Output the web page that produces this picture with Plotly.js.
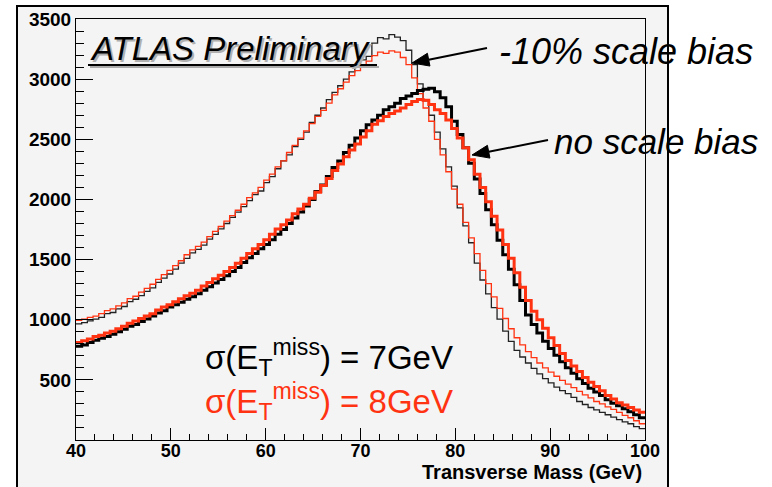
<!DOCTYPE html>
<html>
<head>
<meta charset="utf-8">
<script src="https://cdn.plot.ly/plotly-3.0.1.min.js"></script>
<style>html,body{margin:0;padding:0;background:#fff;}#chart{width:772px;height:487px;}</style>
</head>
<body>
<div id="chart"></div>
<script>
// Histogram binning (transverse mass, GeV)
const binLow = 40;
const binWidth = 0.6;

// -10% scale bias, sigma(ETmiss) = 7 GeV (thin black)
const biasSigma7 = [965,975,990,1005,1020,1050,1060,1090,1110,1150,
  1170,1200,1235,1265,1310,1345,1380,1420,1470,1510,
  1555,1585,1620,1670,1710,1755,1800,1850,1895,1940,
  1990,2040,2070,2140,2190,2255,2320,2370,2440,2500,
  2560,2640,2700,2760,2830,2890,2945,3000,3060,3110,
  3160,3190,3300,3345,3335,3370,3350,3320,3240,3120,
  2960,2820,2700,2560,2420,2270,2110,1930,1780,1640,
  1470,1330,1215,1100,1005,905,820,745,690,640,
  595,550,510,475,440,410,385,355,320,295,
  270,250,230,210,190,170,150,135,112,95];

// -10% scale bias, sigma(ETmiss) = 8 GeV (thin red)
const biasSigma8 = [995,1005,1020,1030,1050,1075,1090,1115,1140,1175,
  1195,1230,1260,1295,1335,1375,1410,1450,1490,1540,
  1580,1610,1645,1690,1735,1775,1820,1865,1910,1960,
  2015,2055,2100,2160,2210,2270,2320,2390,2450,2510,
  2570,2630,2690,2740,2800,2870,2920,2975,3030,3070,
  3120,3150,3195,3225,3215,3235,3225,3180,3120,3010,
  2880,2760,2650,2500,2370,2230,2085,1960,1810,1680,
  1550,1410,1300,1190,1095,1010,925,850,790,735,
  685,640,600,565,530,495,465,435,405,375,
  350,320,300,275,255,230,205,185,160,135];

// no scale bias, sigma(ETmiss) = 7 GeV (thick black)
const noBiasSigma7 = [780,790,810,830,845,860,880,900,920,945,
  960,985,1005,1030,1055,1075,1105,1125,1145,1170,
  1190,1215,1245,1275,1305,1335,1365,1400,1435,1475,
  1515,1550,1590,1625,1665,1710,1750,1800,1845,1895,
  1945,2000,2065,2120,2190,2265,2320,2390,2450,2510,
  2570,2620,2660,2700,2745,2770,2800,2840,2860,2880,
  2905,2915,2925,2895,2845,2770,2650,2540,2430,2300,
  2170,2050,1915,1790,1660,1540,1420,1290,1160,1040,
  960,890,820,760,705,650,600,555,510,470,
  430,400,370,335,305,285,260,235,210,185];

// no scale bias, sigma(ETmiss) = 8 GeV (thick red)
const noBiasSigma8 = [810,825,840,860,870,890,905,925,945,970,
  990,1010,1030,1050,1080,1105,1125,1150,1175,1200,
  1220,1245,1280,1310,1340,1370,1400,1435,1470,1510,
  1550,1590,1625,1665,1710,1755,1790,1830,1880,1920,
  1960,2010,2060,2115,2175,2240,2295,2355,2410,2460,
  2520,2570,2625,2655,2690,2715,2735,2760,2790,2815,
  2830,2825,2790,2745,2715,2660,2590,2510,2430,2330,
  2210,2100,1980,1860,1745,1625,1510,1390,1270,1160,
  1070,1000,930,850,785,720,660,615,570,520,
  480,445,410,370,340,310,290,270,250,230];

const xTickVals = [40,50,60,70,80,90,100];
const yTickVals = [500,1000,1500,2000,2500,3000,3500];

function steps(vals) {
  const x = [], y = [];
  vals.forEach((v, i) => { x.push(binLow + i * binWidth); y.push(v); });
  x.push(binLow + vals.length * binWidth);
  y.push(vals[vals.length - 1]);
  return {x, y};
}

const RED = '#ff3311';
const series = [
  {vals: biasSigma7, color: '#222222', width: 1.3, name: '-10% scale bias, 7GeV'},
  {vals: biasSigma8, color: RED, width: 1.3, name: '-10% scale bias, 8GeV'},
  {vals: noBiasSigma7, color: '#000000', width: 3, name: 'no scale bias, 7GeV'},
  {vals: noBiasSigma8, color: RED, width: 3, name: 'no scale bias, 8GeV'}
];

const traces = series.map(s => {
  const st = steps(s.vals);
  return {x: st.x, y: st.y, type: 'scatter', mode: 'lines', name: s.name,
    line: {shape: 'hv', color: s.color, width: s.width}, hoverinfo: 'skip'};
});

const FONT = 'Liberation Sans, Arial, sans-serif';
const L = 76, T = 19, W = 569, H = 421;
const px = v => (v - L) / W;
const py = v => (T + H - v) / H;

function arrowShapes(tipX, tipY, tailX, tailY) {
  const dx = tailX - tipX, dy = tailY - tipY;
  const len = Math.hypot(dx, dy);
  const ux = dx / len, uy = dy / len;
  const headLen = 17, halfW = 6.5;
  const bx = tipX + ux * headLen, by = tipY + uy * headLen;
  const p1x = bx - uy * halfW, p1y = by + ux * halfW;
  const p2x = bx + uy * halfW, p2y = by - ux * halfW;
  return [
    {type: 'line', xref: 'paper', yref: 'paper', x0: px(tailX), y0: py(tailY), x1: px(bx), y1: py(by),
      line: {color: '#000', width: 2}},
    {type: 'path', xref: 'paper', yref: 'paper',
      path: `M ${px(tipX)} ${py(tipY)} L ${px(p1x)} ${py(p1y)} L ${px(p2x)} ${py(p2y)} Z`,
      fillcolor: '#000', line: {color: '#000', width: 1}}
  ];
}

const layout = {
  width: 772, height: 487,
  margin: {l: L, r: 772 - L - W, t: T, b: 487 - T - H, pad: 0},
  paper_bgcolor: '#ffffff',
  plot_bgcolor: '#f4f4f4',
  showlegend: false,
  xaxis: {
    range: [40, 100], tickmode: 'array', tickvals: xTickVals,
    ticks: 'inside', ticklen: 12, tickwidth: 1, tickcolor: '#000',
    showline: true, linecolor: '#000', linewidth: 1, mirror: true,
    showgrid: false, zeroline: false, ticklabelstandoff: -6,
    tickfont: {family: FONT, size: 18, color: '#000', weight: 'bold'},
    minor: {tickmode: 'linear', tick0: 40, dtick: 2, ticks: 'inside', ticklen: 6, tickcolor: '#000', showgrid: false}
  },
  yaxis: {
    range: [0, 3500], tickmode: 'array', tickvals: yTickVals,
    ticks: 'inside', ticklen: 17, tickwidth: 1, tickcolor: '#000',
    showline: true, linecolor: '#000', linewidth: 1, mirror: true,
    showgrid: false, zeroline: false,
    tickfont: {family: FONT, size: 19, color: '#000', weight: 'bold'},
    minor: {tickmode: 'linear', tick0: 0, dtick: 100, ticks: 'inside', ticklen: 8, tickcolor: '#000', showgrid: false}
  },
  shapes: [
    {type: 'rect', xref: 'paper', yref: 'paper', x0: px(17), x1: px(668), y0: py(500), y1: py(6),
      fillcolor: '#f4f4f4', line: {color: '#000', width: 2}, layer: 'below'},
    {type: 'line', xref: 'paper', yref: 'paper', x0: px(90), x1: px(379), y0: py(67), y1: py(67),
      line: {color: '#aaaaaa', width: 2}},
    {type: 'line', xref: 'paper', yref: 'paper', x0: px(88), x1: px(377), y0: py(65), y1: py(65),
      line: {color: '#000', width: 2}}
  ].concat(arrowShapes(412, 63, 487, 48), arrowShapes(472, 155, 548, 140)),
  annotations: [
    {xref: 'paper', yref: 'paper', x: px(90), y: py(50), xanchor: 'left', yanchor: 'middle', showarrow: false,
      text: '<i>ATLAS Preliminary</i>', font: {family: FONT, size: 33, color: '#b0b0b0'}},
    {xref: 'paper', yref: 'paper', x: px(88), y: py(48), xanchor: 'left', yanchor: 'middle', showarrow: false,
      text: '<i>ATLAS Preliminary</i>', font: {family: FONT, size: 33, color: '#000'}},
    {xref: 'paper', yref: 'paper', x: px(497), y: py(51), xanchor: 'left', yanchor: 'middle', showarrow: false,
      text: '<i>-10% scale bias</i>', font: {family: FONT, size: 36, color: '#000'}},
    {xref: 'paper', yref: 'paper', x: px(552), y: py(141), xanchor: 'left', yanchor: 'middle', showarrow: false,
      text: '<i>no scale bias</i>', font: {family: FONT, size: 35, color: '#000'}},
    {xref: 'paper', yref: 'paper', x: px(203), y: py(357), xanchor: 'left', yanchor: 'middle', showarrow: false,
      text: 'σ(E<sub>T</sub><sup>miss</sup>) = 7GeV', font: {family: FONT, size: 33, color: '#000'}},
    {xref: 'paper', yref: 'paper', x: px(203), y: py(401), xanchor: 'left', yanchor: 'middle', showarrow: false,
      text: 'σ(E<sub>T</sub><sup>miss</sup>) = 8GeV', font: {family: FONT, size: 33, color: RED}},
    {xref: 'paper', yref: 'paper', x: px(644), y: py(472), xanchor: 'right', yanchor: 'middle', showarrow: false,
      text: '<b>Transverse Mass (GeV)</b>', font: {family: FONT, size: 20, color: '#000'}}
  ]
};

Plotly.newPlot('chart', traces, layout, {staticPlot: true, displayModeBar: false});
</script>
</body>
</html>
